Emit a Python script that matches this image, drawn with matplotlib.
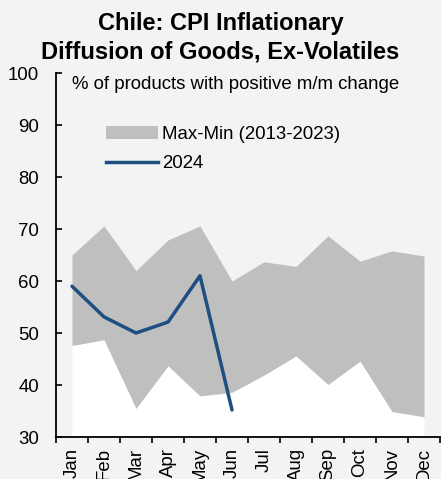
import numpy as np
import matplotlib.pyplot as plt
from matplotlib.patches import Patch
from matplotlib.lines import Line2D

plt.rcParams['font.family'] = ['Liberation Sans', 'DejaVu Sans']

months = ["Jan", "Feb", "Mar", "Apr", "May", "Jun", "Jul", "Aug", "Sep", "Oct", "Nov", "Dec"]
hist_max = [65.0, 70.6, 62.0, 67.9, 70.6, 60.0, 63.7, 62.8, 68.7, 63.8, 65.8, 64.8]
hist_min = [47.6, 48.7, 35.5, 43.7, 37.9, 38.6, 41.9, 45.6, 40.1, 44.6, 34.9, 33.9]
y2024 = [59.0, 53.1, 50.0, 52.1, 61.0, 35.2]

bg = '#f2f3f3'
grey = '#bfbfbf'
blue = '#1f4e80'
fs = 13.4

fig = plt.figure(figsize=(4.41, 4.79), dpi=100)
fig.patch.set_facecolor(bg)
ax = fig.add_axes([56/441, 1-437/479, 384/441, 364/479])
ax.set_facecolor(bg)

x = np.arange(len(months))
ax.fill_between(x, 30, hist_min, color='white', lw=0)
ax.fill_between(x, hist_min, hist_max, color=grey, lw=0)
ax.plot(x[:len(y2024)], y2024, color=blue, lw=2.5, solid_capstyle='round')

ax.set_xlim(-0.5, 11.5)
ax.set_ylim(30, 100)
ax.set_yticks(range(30, 101, 10))
ax.set_xticks(np.arange(-0.5, 12, 1))
ax.set_xticklabels([])
ax.set_xticks(x, minor=True)
ax.set_xticklabels(months, minor=True, rotation=90, fontsize=fs)
ax.tick_params(axis='x', which='major', direction='out', length=4, width=1.2)
ax.tick_params(axis='x', which='minor', length=0, pad=8)
ax.tick_params(axis='y', direction='in', length=4, width=1.2, pad=12, labelsize=fs)

for s in ['top', 'right']:
    ax.spines[s].set_visible(False)
for s in ['left', 'bottom']:
    ax.spines[s].set_linewidth(1.3)

ax.text(0, 97.7, "% of products with positive m/m change", fontsize=fs, va='center', ha='left')

handles = [Patch(facecolor=grey, edgecolor='none', label="Max-Min (2013-2023)"),
           Line2D([], [], color=blue, lw=2.5, label="2024")]
fig.legend(handles=handles, loc='upper left', bbox_to_anchor=(106/441, 1-126/479),
           frameon=False, fontsize=fs, borderpad=0, handlelength=2.8,
           handletextpad=0.2, labelspacing=0.66, borderaxespad=0)

fig.text(0.5, 1-30/479, "Chile: CPI Inflationary", ha='center', va='baseline',
         fontsize=17, fontweight='bold')
fig.text(0.5, 1-58/479, "Diffusion of Goods, Ex-Volatiles", ha='center', va='baseline',
         fontsize=17, fontweight='bold')

fig.savefig('out.png', dpi=100, facecolor=bg)
